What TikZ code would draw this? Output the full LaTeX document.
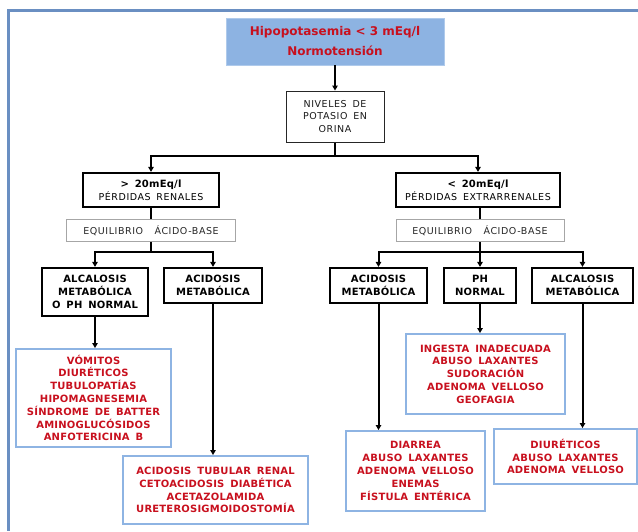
\documentclass[tikz,border=0pt]{standalone}
\usepackage{fontspec}
\setmainfont{DejaVu Sans}
\newfontfamily\dvs{DejaVu Sans}[WordSpace=1.6,LetterSpace=2]
\newfontfamily\dvsr{DejaVu Sans}[WordSpace=1.6,LetterSpace=6]
\usetikzlibrary{arrows.meta}
\definecolor{redt}{RGB}{200,16,30}
\definecolor{topfill}{RGB}{141,179,226}
\definecolor{bluebd}{RGB}{142,180,227}
\definecolor{frameb}{RGB}{106,143,194}
\tikzset{
  blk/.style={draw=black, line width=2.2pt, font=\dvs\bfseries\fontsize{10}{12.8}\selectfont, align=center, inner sep=0pt},
  redbox/.style={draw=bluebd, line width=2pt, text=redt, font=\dvs\bfseries\fontsize{10}{12.8}\selectfont, align=center, inner sep=0pt},
  eqbox/.style={draw=gray!70, line width=0.9pt, font=\dvsr\fontsize{9.5}{12}\selectfont, text=black!85, inner sep=0pt},
  topbox/.style={fill=topfill, draw=topfill!70!white, line width=0.8pt, text=redt, font=\bfseries\fontsize{12}{20}\selectfont, align=center, inner sep=0pt},
  conn/.style={line width=2pt, draw=black},
  arr/.style={conn, -{Triangle[length=5pt,width=5.5pt]}}
}
\begin{document}
\begin{tikzpicture}[x=1pt,y=-1pt]
\useasboundingbox (0,0) rectangle (638,531);
\draw[frameb, line width=3pt] (638,10) -- (8.5,10) -- (8.5,531);

\node[topbox, minimum width=218pt, minimum height=47pt] (top) at (335,41.5) {Hipopotasemia < 3 mEq/l\\Normotensión};
\node[draw=black!85, line width=1pt, font=\dvsr\fontsize{9.5}{12.7}\selectfont, text=black!90, align=center, inner sep=0pt, minimum width=98pt, minimum height=51pt] (niv) at (335,116.5) {NIVELES DE\\POTASIO EN\\ORINA};

\node[blk, minimum width=136pt, minimum height=34pt] (ren) at (151,190) {> 20mEq/l\\{\dvsr\mdseries\fontsize{9.5}{12.8}\selectfont PÉRDIDAS RENALES}};
\node[blk, minimum width=164pt, minimum height=34pt] (ext) at (478,190) {< 20mEq/l\\{\dvsr\mdseries\fontsize{9.5}{12.8}\selectfont PÉRDIDAS EXTRARRENALES}};

\node[eqbox, minimum width=169pt, minimum height=22pt] (eqL) at (151,230.5) {EQUILIBRIO~ ÁCIDO-BASE};
\node[eqbox, minimum width=168pt, minimum height=22pt] (eqR) at (480,230.5) {EQUILIBRIO~ ÁCIDO-BASE};

\node[blk, minimum width=106pt, minimum height=48pt] (alcL) at (95,292) {ALCALOSIS\\METABÓLICA\\O PH NORMAL};
\node[blk, minimum width=98pt, minimum height=35pt] (acdL) at (213,285.5) {ACIDOSIS\\METABÓLICA};
\node[blk, minimum width=97pt, minimum height=35pt] (acdR) at (378.5,285.5) {ACIDOSIS\\METABÓLICA};
\node[blk, minimum width=72pt, minimum height=35pt] (phR) at (480,285.5) {PH\\NORMAL};
\node[blk, minimum width=101pt, minimum height=35pt] (alcR) at (582.5,285.5) {ALCALOSIS\\METABÓLICA};

\node[redbox, minimum width=155pt, minimum height=98pt] (vom) at (93.5,398) {VÓMITOS\\DIURÉTICOS\\TUBULOPATÍAS\\HIPOMAGNESEMIA\\SÍNDROME DE BATTER\\AMINOGLUCÓSIDOS\\ANFOTERICINA B};
\node[redbox, minimum width=185pt, minimum height=68pt] (atr) at (215.5,490) {ACIDOSIS TUBULAR RENAL\\CETOACIDOSIS DIABÉTICA\\ACETAZOLAMIDA\\URETEROSIGMOIDOSTOMÍA};
\node[redbox, minimum width=159pt, minimum height=80pt] (ing) at (485.5,374) {INGESTA INADECUADA\\ABUSO LAXANTES\\SUDORACIÓN\\ADENOMA VELLOSO\\GEOFAGIA};
\node[redbox, minimum width=139pt, minimum height=80pt] (dia) at (415.5,471) {DIARREA\\ABUSO LAXANTES\\ADENOMA VELLOSO\\ENEMAS\\FÍSTULA ENTÉRICA};
\node[redbox, minimum width=143pt, minimum height=55pt] (diu) at (565.5,456.5) {DIURÉTICOS\\ABUSO LAXANTES\\ADENOMA VELLOSO};

\draw[arr] (top.south) -- (niv.north);
\coordinate (s1) at (335,156);
\draw[conn] (niv.south) -- (s1);
\draw[arr] (s1) -| (ren.north);
\draw[arr] (s1) -| (ext.north);
\draw[conn] (ren.south) -- (ren.south |- eqL.north);
\draw[conn] (ext.south -| eqR.north) -- (eqR.north);

\coordinate (s2) at (151,252);
\draw[conn] (eqL.south) -- (s2);
\draw[arr] (s2) -| (alcL.north);
\draw[arr] (s2) -| (acdL.north);

\coordinate (s3) at (480,252);
\draw[conn] (eqR.south) -- (s3);
\draw[arr] (s3) -| (acdR.north);
\draw[arr] (s3) -| (alcR.north);
\draw[arr] (s3) -- (phR.north);

\draw[arr] (alcL.south) -- (alcL.south |- vom.north);
\draw[arr] (acdL.south) -- (acdL.south |- atr.north);
\draw[arr] (acdR.south) -- (acdR.south |- dia.north);
\draw[arr] (phR.south) -- (phR.south |- ing.north);
\draw[arr] (alcR.south) -- (alcR.south |- diu.north);
\end{tikzpicture}
\end{document}
